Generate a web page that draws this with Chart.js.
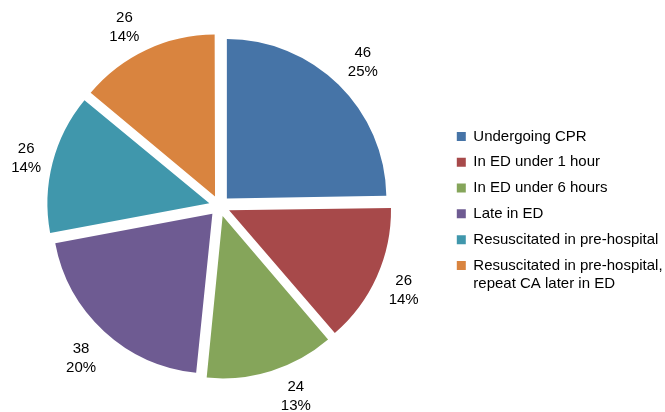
<!DOCTYPE html>
<html>
<head>
<meta charset="utf-8">
<script src="https://cdn.jsdelivr.net/npm/chart.js@4.4.1/dist/chart.umd.min.js"></script>
<style>
  html, body { margin: 0; padding: 0; background: #fff; }
  #wrap { width: 665px; height: 412px; }
</style>
</head>
<body>
<div id="wrap"><canvas id="c" width="665" height="412"></canvas></div>
<script>
// Cardiac arrest patients by resuscitation status
const categories = [
  'Undergoing CPR',
  'In ED under 1 hour',
  'In ED under 6 hours',
  'Late in ED',
  'Resuscitated in pre-hospital',
  ['Resuscitated in pre-hospital,', 'repeat CA later in ED']
];
const patients = [46, 26, 24, 38, 26, 26];
const sliceColors = ['#4674A7', '#A7494A', '#85A55A', '#6E5B92', '#4097AC', '#D9843F'];

const FONT = '"Liberation Sans", Arial, sans-serif';
const EXPLODE = 10.5;          // how far each slice is pulled out, px
const LABEL_GAP = 10.4;        // space between slice edge and its label
const LABEL_TOP = 25;          // highest allowed label anchor
const LABEL_BOTTOM = 395;      // lowest allowed label anchor
const total = patients.reduce((a, b) => a + b, 0);

Chart.defaults.font.family = FONT;

// Keep the pie in its own square on the left, beside the legend
const pieBox = {
  id: 'pieBox',
  afterLayout(chart) {
    const cx = 219.5, cy = 206, h = 200;
    chart.chartArea = { left: cx - h, right: cx + h, top: cy - h, bottom: cy + h, width: 2 * h, height: 2 * h };
  }
};

// Count and share written outside each slice; labels that would run off
// the top or bottom slide round the pie towards the side until they fit
const sliceLabels = {
  id: 'sliceLabels',
  afterDatasetsDraw(chart) {
    const ctx = chart.ctx;
    const meta = chart.getDatasetMeta(0);
    ctx.save();
    ctx.font = '15px ' + FONT;
    ctx.fillStyle = '#000';
    ctx.textAlign = 'center';
    ctx.textBaseline = 'middle';
    meta.data.forEach((arc, i) => {
      const v = patients[i];
      const count = String(v);
      const pct = Math.round(v / total * 100) + '%';
      const halfW = Math.max(ctx.measureText(count).width, ctx.measureText(pct).width) / 2;
      const halfH = 19;
      const place = (a) => {
        const ux = Math.cos(a), uy = Math.sin(a);
        const d = arc.outerRadius + EXPLODE + LABEL_GAP + Math.abs(ux) * halfW + Math.abs(uy) * halfH;
        return { x: arc.x + ux * d, y: arc.y + uy * d };
      };
      let a = (arc.startAngle + arc.endAngle) / 2;
      const step = (Math.cos(a) >= 0 ? -1 : 1) * Math.sign(Math.sin(a)) * Math.PI / 900;
      let p = place(a);
      for (let k = 0; k < 300 && (p.y < LABEL_TOP || p.y > LABEL_BOTTOM); k++) {
        a += step;
        p = place(a);
      }
      ctx.fillText(count, p.x, p.y - 7.5);
      ctx.fillText(pct, p.x, p.y + 11.5);
    });
    ctx.restore();
  }
};

new Chart(document.getElementById('c'), {
  type: 'pie',
  data: {
    labels: categories,
    datasets: [{
      data: patients,
      backgroundColor: sliceColors,
      borderWidth: 0,
      offset: 4 * EXPLODE
    }]
  },
  options: {
    responsive: false,
    animation: false,
    radius: 159.5,
    layout: { padding: { top: 11.5, right: 0, bottom: 0, left: 0 } },
    plugins: {
      tooltip: { enabled: false },
      legend: {
        position: 'right',
        maxWidth: 219,
        labels: {
          boxWidth: 9,
          boxHeight: 9,
          padding: 10.8,
          color: '#000',
          font: { family: FONT, size: 15, lineHeight: 1.22 }
        }
      }
    }
  },
  plugins: [pieBox, sliceLabels]
});
</script>
</body>
</html>
